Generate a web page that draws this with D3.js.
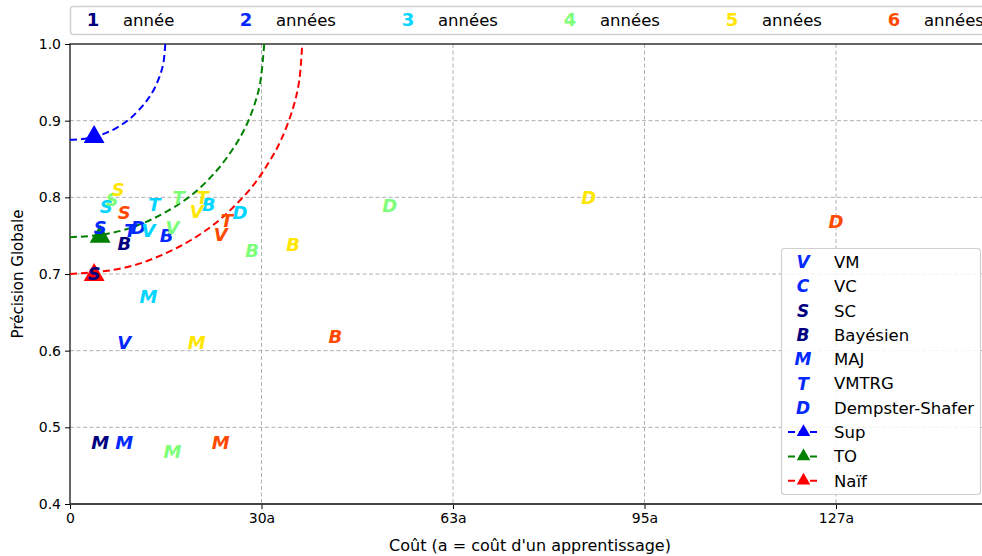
<!DOCTYPE html>
<html>
<head>
<meta charset="utf-8">
<script src="https://cdn.jsdelivr.net/npm/d3@7"></script>
<style>
  body { margin: 0; background: #fff; }
  svg { display: block; font-family: "DejaVu Sans", sans-serif; }
</style>
</head>
<body>
<div id="chart"></div>
<script>
// years (colour legend on top)
const years = ["1", "2", "3", "4", "5", "6"];
const yearLabels = ["année", "années", "années", "années", "années", "années"];
const yearColors = ["#00007f", "#0028ff", "#00d4ff", "#7dff7a", "#ffe600", "#ff4a00"];

// methods (letter markers)
const methodLetters = ["V", "C", "S", "B", "M", "T", "D"];
const methodNames = ["VM", "VC", "SC", "Bayésien", "MAJ", "VMTRG", "Dempster-Shafer"];
const methodLegendColors = ["#0028ff", "#0028ff", "#00007f", "#00007f", "#0028ff", "#0028ff", "#0028ff"];

// [letter, cost (in a), precision] per year
const year1 = [["S", 4, 0.70], ["B", 9, 0.74], ["M", 5, 0.48]];
const year2 = [["S", 5, 0.76], ["T", 10, 0.757], ["D", 11.3, 0.76], ["B", 16, 0.75], ["V", 9, 0.61], ["M", 9, 0.48]];
const year3 = [["S", 6, 0.788], ["T", 14, 0.79], ["V", 13, 0.757], ["B", 23, 0.79], ["D", 28.2, 0.78], ["M", 13, 0.67]];
const year4 = [["S", 7, 0.797], ["T", 18, 0.80], ["V", 17, 0.761], ["B", 30.2, 0.73], ["D", 53, 0.789], ["M", 17, 0.469]];
const year5 = [["S", 8, 0.81], ["T", 22, 0.80], ["V", 21, 0.781], ["B", 37, 0.739], ["D", 86, 0.80], ["M", 21, 0.61]];
const year6 = [["S", 9, 0.78], ["T", 26, 0.77], ["V", 25, 0.751], ["B", 44, 0.619], ["D", 127, 0.769], ["M", 25, 0.48]];
const yearPoints = [year1, year2, year3, year4, year5, year6];

// reference curves [cost, precision]
const supCurve = [[0, 0.875], [2, 0.876], [4, 0.879], [6, 0.884], [8, 0.892], [10, 0.903], [12, 0.919], [13, 0.929], [14, 0.942], [15, 0.961], [15.5, 0.976], [15.8, 1.0]];
const toCurve = [[0, 0.748], [5, 0.751], [10, 0.760], [15, 0.777], [20, 0.802], [24, 0.832], [27, 0.863], [29, 0.890], [30.5, 0.919], [31.5, 0.948], [32.2, 1.0]];
const naifCurve = [[0, 0.70], [5, 0.703], [10, 0.710], [15, 0.724], [20, 0.744], [25, 0.772], [30, 0.812], [33, 0.846], [35, 0.875], [37, 0.917], [38, 0.952], [38.5, 1.0]];
const curveNames = ["Sup", "TO", "Naïf"];
const curveColors = ["#0000ff", "#008000", "#ff0000"];
const curveMarks = [[4, 0.88], [5, 0.75], [4, 0.70]];

const xTicks = [0, 31.75, 63.5, 95.25, 127];
const xTickLabels = ["0", "30a", "63a", "95a", "127a"];
const yTicks = [0.4, 0.5, 0.6, 0.7, 0.8, 0.9, 1.0];

const width = 982, height = 556;
const margin = { top: 44, right: -8, bottom: 52, left: 70 };
const plotW = width - margin.left - margin.right;
const plotH = height - margin.top - margin.bottom;

const svg = d3.select("#chart").append("svg")
    .attr("width", width)
    .attr("height", height);

const g = svg.append("g").attr("transform", `translate(${margin.left},${margin.top})`);

const x = d3.scaleLinear().domain([0, 127]).range([0, 766]);
const y = d3.scaleLinear().domain([0.4, 1.0]).range([plotH, 0]);

// grid
g.append("g").selectAll("line").data(xTicks.slice(1)).join("line")
    .attr("x1", d => x(d)).attr("x2", d => x(d))
    .attr("y1", 0).attr("y2", plotH)
    .attr("stroke", "#b0b0b0").attr("stroke-dasharray", "4,2.5");
g.append("g").selectAll("line").data(yTicks.slice(0, -1)).join("line")
    .attr("x1", 0).attr("x2", plotW)
    .attr("y1", d => y(d)).attr("y2", d => y(d))
    .attr("stroke", "#b0b0b0").attr("stroke-dasharray", "4,2.5");

// axes
const xAxis = d3.axisBottom(x).tickValues(xTicks).tickFormat((d, i) => xTickLabels[i]).tickSize(5).tickPadding(4);
const gx = g.append("g").attr("transform", `translate(0,${plotH})`).call(xAxis);
gx.select(".domain").remove();
gx.selectAll("text").attr("font-size", 14).attr("fill", "#000").attr("font-family", "DejaVu Sans");

const yAxis = d3.axisLeft(y).tickValues(yTicks).tickFormat(d3.format(".1f")).tickSize(5).tickPadding(4);
const gy = g.append("g").call(yAxis);
gy.select(".domain").remove();
gy.selectAll("text").attr("font-size", 14).attr("fill", "#000").attr("font-family", "DejaVu Sans");

// frame
g.append("rect").attr("width", plotW).attr("height", plotH)
    .attr("fill", "none").attr("stroke", "#000").attr("stroke-width", 1.2);
g.append("line").attr("x1", 0).attr("x2", plotW).attr("y1", plotH).attr("y2", plotH)
    .attr("stroke", "#444").attr("stroke-width", 2);

// axis labels
svg.append("text")
    .attr("x", 530).attr("y", 551)
    .attr("text-anchor", "middle").attr("font-size", 16)
    .text("Coût (a = coût d'un apprentissage)");
svg.append("text")
    .attr("transform", `translate(23,${margin.top + plotH / 2}) rotate(-90)`)
    .attr("text-anchor", "middle").attr("font-size", 15)
    .text("Précision Globale");

// curves
const line = d3.line().x(d => x(d[0])).y(d => y(d[1])).curve(d3.curveCatmullRom.alpha(0.5));
const plotG = g.append("g");
[supCurve, toCurve, naifCurve].forEach((c, i) => {
    plotG.append("path").datum(c)
        .attr("d", line)
        .attr("fill", "none")
        .attr("stroke", curveColors[i])
        .attr("stroke-width", 2)
        .attr("stroke-dasharray", "7,4");
});

const tri = d3.symbol().type(d3.symbolTriangle).size(190);
curveMarks.forEach((m, i) => {
    plotG.append("path")
        .attr("d", tri)
        .attr("transform", `translate(${x(m[0])},${y(m[1]) + 1})`)
        .attr("fill", curveColors[i]);
});

// letter markers
yearPoints.forEach((pts, i) => {
    plotG.append("g").selectAll("text").data(pts).join("text")
        .attr("x", d => x(d[1]))
        .attr("y", d => y(d[2]))
        .attr("dy", "0.36em")
        .attr("text-anchor", "middle")
        .attr("font-size", 18)
        .attr("font-weight", "bold")
        .attr("font-style", "italic")
        .attr("fill", yearColors[i])
        .text(d => d[0]);
});

// top legend (years) - first column is narrower ("année")
const topLeg = svg.append("g");
topLeg.append("rect")
    .attr("x", 70.5).attr("y", 6.5).attr("width", 930).attr("height", 28)
    .attr("rx", 3).attr("fill", "#fff").attr("stroke", "#d0d0d0").attr("stroke-width", 1.5);
years.forEach((yr, i) => {
    const cx = i === 0 ? 93 : 246 + (i - 1) * 162;
    topLeg.append("text")
        .attr("x", cx).attr("y", 26)
        .attr("text-anchor", "middle").attr("font-size", 18).attr("font-weight", "bold")
        .attr("fill", yearColors[i]).text(yr);
    topLeg.append("text")
        .attr("x", cx + 30).attr("y", 25.5)
        .attr("font-size", 16.5).attr("fill", "#000").text(yearLabels[i]);
});

// right legend (methods and curves)
const rl = svg.append("g");
rl.append("rect")
    .attr("x", 781.5).attr("y", 248.5).attr("width", 199).attr("height", 246)
    .attr("rx", 3).attr("fill", "#fff").attr("fill-opacity", 0.85)
    .attr("stroke", "#d0d0d0").attr("stroke-width", 1.2);
const rowY = i => 262 + i * 24.3;
methodLetters.forEach((m, i) => {
    rl.append("text")
        .attr("x", 803).attr("y", rowY(i)).attr("dy", "0.36em")
        .attr("text-anchor", "middle").attr("font-size", 17)
        .attr("font-weight", "bold").attr("font-style", "italic")
        .attr("fill", methodLegendColors[i]).text(m);
    rl.append("text")
        .attr("x", 834).attr("y", rowY(i)).attr("dy", "0.36em")
        .attr("font-size", 16.5).text(methodNames[i]);
});
const triSmall = d3.symbol().type(d3.symbolTriangle).size(80);
curveNames.forEach((n, k) => {
    const ry = rowY(methodLetters.length + k);
    rl.append("line")
        .attr("x1", 788).attr("x2", 819).attr("y1", ry).attr("y2", ry)
        .attr("stroke", curveColors[k]).attr("stroke-width", 2).attr("stroke-dasharray", "7,4");
    rl.append("path").attr("d", triSmall)
        .attr("transform", `translate(803.5,${ry})`).attr("fill", curveColors[k]);
    rl.append("text")
        .attr("x", 834).attr("y", ry).attr("dy", "0.36em")
        .attr("font-size", 16.5).text(n);
});
</script>
</body>
</html>
